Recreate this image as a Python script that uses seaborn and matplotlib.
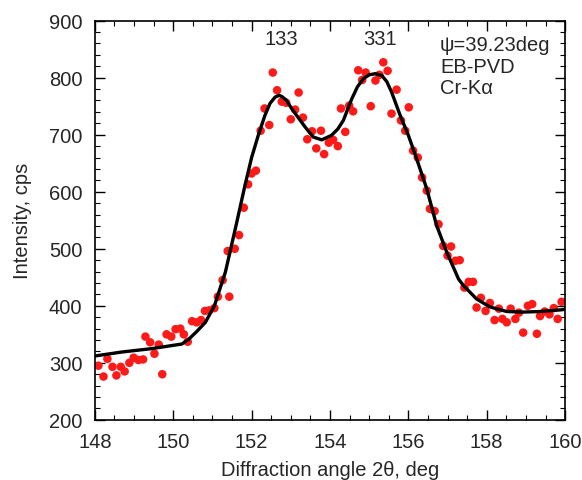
import numpy as np
import pandas as pd
import matplotlib
matplotlib.use("Agg")
import matplotlib.pyplot as plt
from matplotlib.ticker import MultipleLocator
import seaborn as sns

# measured points (2theta, cps)
angle = [148.09, 148.22, 148.32, 148.45, 148.55, 148.66, 148.76, 148.88, 148.99, 149.11,
         149.23, 149.29, 149.41, 149.52, 149.63, 149.72, 149.83, 149.95, 150.06, 150.18,
         150.27, 150.37, 150.48, 150.60, 150.71, 150.81, 150.92, 151.05, 151.14, 151.26,
         151.43, 151.39, 151.57, 151.68, 151.80, 151.91, 152.00, 152.11, 152.23, 152.33,
         152.45, 152.54, 152.65, 152.77, 152.88, 153.00, 153.11, 153.20, 153.31, 153.42,
         153.54, 153.65, 153.77, 153.85, 153.97, 154.08, 154.20, 154.28, 154.39, 154.49,
         154.59, 154.72, 154.82, 154.91, 155.04, 155.16, 155.26, 155.36, 155.47, 155.57,
         155.70, 155.81, 155.92, 156.01, 156.12, 156.24, 156.35, 156.47, 156.55, 156.67,
         156.77, 156.89, 157.00, 157.09, 157.20, 157.31, 157.43, 157.54, 157.65, 157.74,
         157.85, 157.97, 158.08, 158.20, 158.31, 158.40, 158.51, 158.61, 158.73, 158.82,
         158.93, 159.05, 159.16, 159.28, 159.36, 159.48, 159.60, 159.71, 159.81, 159.91]
counts = [295, 276, 307, 293, 278, 293, 285, 300, 309, 305,
          306, 346, 336, 316, 332, 280, 350, 346, 359, 360,
          350, 337, 373, 371, 375, 391, 392, 396, 416, 445,
          416, 496, 500, 524, 572, 613, 632, 637, 707, 746,
          717, 809, 778, 758, 756, 727, 744, 774, 730, 692,
          706, 676, 707, 666, 686, 691, 680, 746, 705, 751,
          741, 813, 796, 809, 750, 795, 805, 827, 812, 737,
          779, 725, 707, 748, 672, 660, 625, 602, 570, 566,
          543, 505, 488, 504, 479, 480, 432, 442, 442, 397,
          414, 391, 405, 375, 395, 377, 371, 395, 377, 388,
          353, 400, 403, 351, 382, 390, 385, 396, 377, 407]

# fitted profile
fit_angle = [148.0, 148.69, 149.46, 150.22, 150.39, 150.60, 150.82, 151.05, 151.33, 151.60,
             151.83, 152.00, 152.17, 152.34, 152.47, 152.60, 152.70, 152.77, 152.88, 153.02,
             153.20, 153.36, 153.57, 153.79, 154.04, 154.20, 154.34, 154.55, 154.70, 154.85,
             155.00, 155.15, 155.32, 155.45, 155.57, 155.79, 156.00, 156.21, 156.47, 156.72,
             156.98, 157.28, 157.40, 157.74, 158.08, 158.51, 158.93, 159.36, 159.91, 160.0]
fit_counts = [312, 319, 325, 333, 341, 355, 371, 400, 459, 540,
              611, 660, 699, 734, 755, 766, 769, 767, 761, 746,
              729, 714, 696, 691, 699, 710, 725, 762, 784, 798,
              805, 807, 804, 793, 775, 734, 699, 658, 605, 541,
              494, 447, 436, 412, 398, 390, 389, 390, 393, 394]

peak_labels = ["133", "331"]
peak_pos = [152.75, 155.28]
info_lines = ["\u03c8=39.23deg", "EB-PVD", "Cr-K\u03b1"]

df = pd.DataFrame({"angle": angle, "counts": counts})
fit = pd.DataFrame({"angle": fit_angle, "counts": fit_counts})

sns.set_style("ticks")
plt.rcParams["font.family"] = ["Liberation Sans", "DejaVu Sans"]

fig = plt.figure(figsize=(5.82, 4.81), dpi=100)
ax = fig.add_axes([0.163, 0.125, 0.808, 0.830])

sns.scatterplot(data=df, x="angle", y="counts", color="#ff1a1a", s=38,
                edgecolor="none", ax=ax, zorder=2)
sns.lineplot(data=fit, x="angle", y="counts", color="black", linewidth=2.4,
             sort=False, ax=ax, zorder=3)

ax.set_xlim(148, 160)
ax.set_ylim(200, 900)
ax.xaxis.set_major_locator(MultipleLocator(2))
ax.xaxis.set_minor_locator(MultipleLocator(0.5))
ax.yaxis.set_major_locator(MultipleLocator(100))
ax.yaxis.set_minor_locator(MultipleLocator(20))
ax.tick_params(which="both", direction="in", top=True, right=True, labelsize=14.5,
               color="black", pad=9)
ax.tick_params(which="major", length=7, width=1)
ax.tick_params(which="minor", length=3.5, width=0.8)
for sp in ax.spines.values():
    sp.set_linewidth(1.2)
    sp.set_color("black")

ax.set_xlabel("Diffraction angle 2\u03b8, deg", fontsize=14.5, labelpad=6)
ax.set_ylabel("Intensity, cps", fontsize=14.5, labelpad=12)

for lab, pos in zip(peak_labels, peak_pos):
    ax.text(pos, 868, lab, ha="center", va="center", fontsize=14.5)

for i, line in enumerate(info_lines):
    ax.text(0.734, 0.939 - 0.0535 * i, line, transform=ax.transAxes,
            fontsize=14.5, va="center")

plt.savefig("out.png", dpi=100)
